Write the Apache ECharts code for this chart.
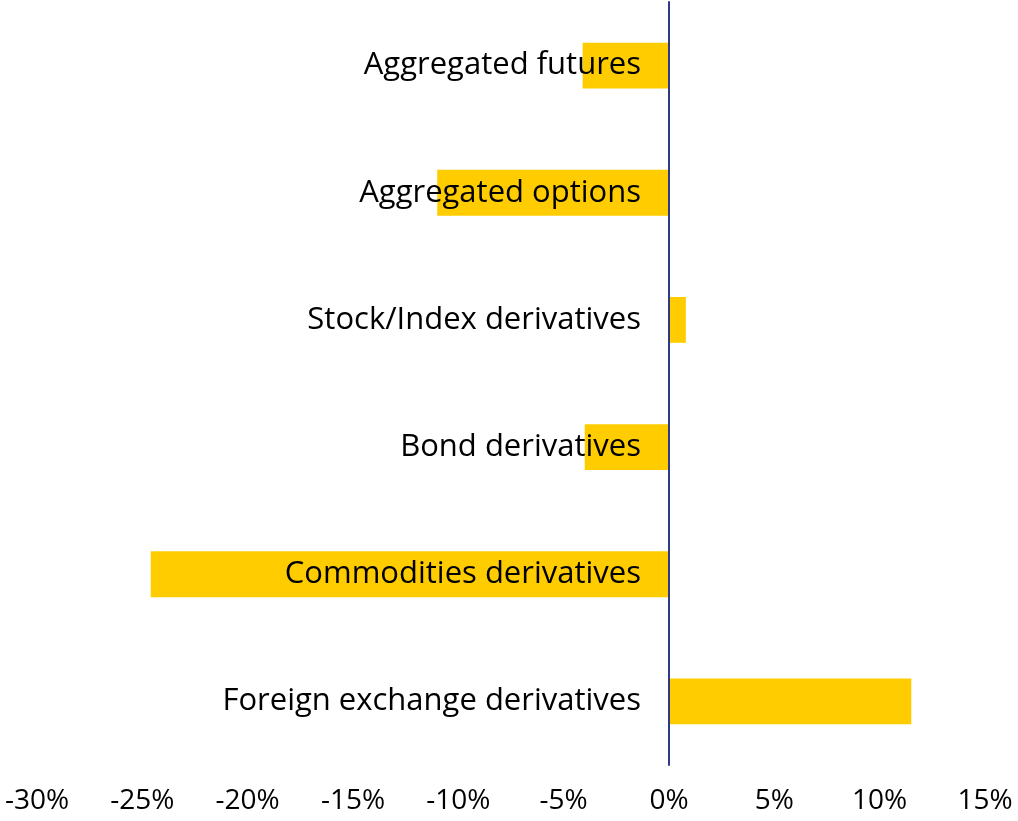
<!DOCTYPE html>
<html>
<head>
<meta charset="utf-8">
<script src="https://cdn.jsdelivr.net/npm/echarts@6/dist/echarts.min.js"></script>
<style>
  html, body { margin: 0; padding: 0; background: #fff; }
  #chart { width: 1018px; height: 821px; }
</style>
</head>
<body>
<div id="chart"></div>
<script>
// categories top to bottom
var categories = [
  'Aggregated futures',
  'Aggregated options',
  'Stock/Index derivatives',
  'Bond derivatives',
  'Commodities derivatives',
  'Foreign exchange derivatives'
];
// change in %
var values = [-4.1, -11.0, 0.8, -4.0, -24.6, 11.5];

var font = '"Open Sans", sans-serif';
var gridLeft = 37, gridRight = 33;
var xMin = -30, xMax = 15;
var chartW = 1018;

// push the category axis from the left edge to the 0% position
var zeroOffset = -(chartW - gridLeft - gridRight) * (0 - xMin) / (xMax - xMin);

var myChart = echarts.init(document.getElementById('chart'));
var option = {
  animation: false,
  grid: {
    left: gridLeft,
    right: gridRight,
    top: 2,
    bottom: 56,
    containLabel: false,
    outerBoundsMode: 'none'
  },
  xAxis: {
    type: 'value',
    min: xMin,
    max: xMax,
    interval: 5,
    axisLine: { show: false },
    axisTick: { show: false },
    splitLine: { show: false },
    axisLabel: {
      formatter: '{value}%',
      color: '#000',
      fontSize: 28,
      fontFamily: font,
      margin: 22
    }
  },
  yAxis: {
    type: 'category',
    inverse: true,
    data: categories,
    position: 'left',
    offset: zeroOffset,
    z: 10,
    axisLine: {
      onZero: false,
      lineStyle: { color: '#2E3A87', width: 2 }
    },
    axisTick: { show: false },
    splitLine: { show: false },
    axisLabel: {
      color: '#000',
      fontSize: 31,
      fontFamily: font,
      margin: 28,
      padding: [4, 0, 0, 0]
    }
  },
  series: [
    {
      type: 'bar',
      data: values,
      barWidth: '36%',
      itemStyle: { color: '#FFCC00' }
    }
  ]
};
myChart.setOption(option);
</script>
</body>
</html>
